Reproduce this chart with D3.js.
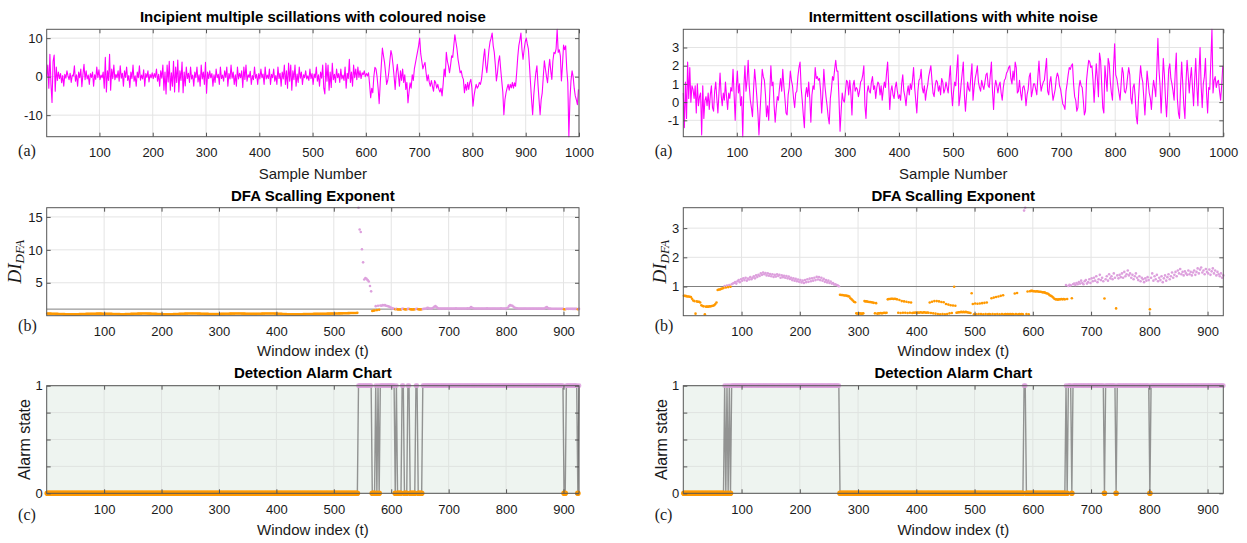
<!DOCTYPE html>
<html>
<head>
<meta charset="utf-8">
<script src="https://cdn.jsdelivr.net/npm/d3@7"></script>
<style>
  body { margin: 0; background: #fff; }
  svg { display: block; }
</style>
</head>
<body>
<svg id="chart" width="1247" height="543"></svg>
<script>
// ---------- data ----------
// Raw signals, one value every 2 samples (samples 1, 3, 5, ..., 999)
const sampleStep = 2;
const colouredNoise = [
  0,3,-3,5.8,-2,-6.7,4,5.6,-3.8,2.5, -1,1.2,-0.5,0.8,-1.6,0.3,-2.5,0.6,-0.4,1.5, 0.2,-0.8,0.9,-1.5,0.4,0.2,2.8,-1.2,0.5,-2.5, 1.2,-0.3,2,-2.6,0.6,3.2,-0.8,1.5,-0.6,0.4, -2,0.8,-0.2,1.2,-2.5,0.5,-0.7,2.5,-0.3,1.8,
  -0.8,0.4,-0.3,1.2,-3,5,-4,1.5,-1,5.8, -3.5,2,-0.5,3,-0.8,0.6,-0.3,1.5,-1.2,2.8, -0.4,0.9,-2.5,1.5,-0.2,2.5,-1,0.3,-2.8,1.2, -0.5,3,-1.2,0.2,-2.5,1.2,-0.3,2.8,-0.9,0.4, -0.6,1.8,-2.5,0.8,-0.2,1.5,-1.4,0.6,-0.3,1,
  -0.5,0.8,-0.2,2,-1.2,0.6,-2.5,1.5,-0.4,3, -3.5,1.2,-4.5,3,-1.4,4,-3.5,1,-2.5,4, -4,2.5,-1.5,4.3,-4,1.5,-1,3.8,-4.2,1.2, -2.4,2.5,-0.5,0.9,-1.5,2.5,-0.6,0.4,-2.5,1.2, -0.3,2.5,-1.4,0.5,-2.5,3,-0.6,1.2,-2,3.7,
  -4.3,1.2,-0.5,1.5,-0.3,0.8,-2.5,0.5,-1.5,2, -0.3,0.6,-2,2.5,-0.5,0.4,-1.2,1.5,-0.2,2.5, -2.5,0.8,-0.6,3,-0.4,1.2,-2,0.5,-2.5,2.5, -0.6,0.9,-0.3,1.5,-2.8,2.5,-0.7,3,-1.2,0.5, -0.2,1.4,-2,0.3,-0.8,2.5,-0.4,0.6,-2,0.8,
  -0.6,2,-0.3,0.7,-2,2.5,-0.6,0.4,-0.5,2, -2,0.6,-0.3,2,-1.2,0.3,-2,2.5,-0.5,0.9, -2.5,1.2,-0.6,3,-2,1.5,-3,3.5,-1.2,3, -3.5,1.5,-0.8,3,-2.5,0.7,-1.5,2.5,-0.4,1.2, -2,0.5,-0.3,1.5,-0.6,0.2,-1,2,-0.5,0.8,
  -2,0.7,-0.3,2.5,-1.2,0.5,-2.5,1.2,-0.4,3, -3,-4.5,3.5,-1.2,3,-3.5,1.2,-2.8,3.5,-0.8, 0.6,-1.5,2,-0.3,0.8,-1.5,2,-0.6,0.4,-1, 2.5,-3,0.9,-0.5,4.5,-1.5,1.2,-2.5,3,-0.3, 2,-0.8,2.5,-0.2,1.5,-0.5,1,0.5,1.5,0,
  0.8,0.2,1,-2,-5.5,-3,-4.2,0,2.4,2, 0,-3,-7,-1.6,3,7.4,5.5,3.7,1,-2, -1,1,4,6.8,5.5,3,0,-3.3,1,3.2, 0.5,-2.5,1.5,-1,2,-1.5,0.5,-3.3,-1.5,-6.8, -4,-1.6,-3,0.5,-1,2,3.5,5,6.5,8,
  10,5.9,4,2,3,3.7,1,-1.1,0.5,-1.5, -2.5,-1,-2.5,-3.8,-1,-1.6,-3,-2,-3.3,-4, -3,-5,-2,2,0,6.3,4,2.8,1,3, 5.4,5,8,10.9,9,7.2,4.5,2.8,1,1.5, 0,-0.7,-4.2,-2,-3.5,-1.5,-3.3,-1.5,-0.7,-3,
  -7.7,-5,-3.3,-2,-3,-2.5,-1.5,-2,-0.7,2, 5,7.2,3,1,4,7,9,10,11.3,8, 6.3,3,-1.1,1,4,5.4,2,-1.1,-4,-9.9, -6,-4.2,-3,-2,-3.5,-2,-2.9,-1.5,-3,-1.6, -2.5,1,5,8,9.5,11.3,7,4.5,7,9,
  10,8.5,7.2,3,-1.6,-6,-9.9,-5,-1.6,1, 2.8,-2,-6,-9.9,-6,-4.2,0,4.1,2,0, -1.6,2,4.5,1.5,-0.7,4,6.3,6,7.2,12.3, 6.3,7,5.4,-1.1,3,8.2,7,8,2,-1.6, -15.6,-6,-1,1.5,0,-3,-5,-6,-7.3,-3.3
];
const whiteNoise = [
  0.5,-1.4,1.1,-0.9,2.2,0.2,1.9,0,0.9,0.7, 0.2,0.9,-0.6,1,-0.2,0.3,0.5,-1.8,0.9,-0.9, 0.1,0.3,-0.2,0.5,-0.4,0.4,0.9,-0.3,-0.5,0.6, 1.1,0.2,-0.6,0.5,1.6,0.4,-0.2,0.5,0.1,1.1, 0.3,-0.4,0.5,0.2,0.8,0.6,1.8,0.4,-1,0.8,
  1.7,0.5,1,-0.2,0.3,-1.9,0.8,2,0.6,1.2, 2.3,0.9,0.1,-0.3,-0.8,0.7,1.8,1.1,0.3,-0.6, -1.8,-0.5,0.6,1.8,1.4,1.2,0.4,-0.8,-0.2,-1, 0.5,2,0.9,1.1,-0.2,-1.1,-0.3,0.3,0.1,0.8, 1.3,0.6,1.8,0.9,0.2,-0.6,-0.7,0.4,0.8,1.7,
  1.2,0.9,0.2,-0.3,0.5,0.6,1.4,1.9,2.2,0.8, 0.1,-0.7,-1.4,0.4,0.8,0.3,1.1,0.2,-1.1,0.4, 0.9,0.7,1.9,1.3,1.4,1.2,1.3,0.6,-0.6,0.4, 1.8,0.9,0.3,-0.2,-0.8,-1.2,0.2,0.7,1.4,1.2, 1.8,2.3,1.7,1.7,0.2,-1.6,-0.5,0.5,0.1,0,
  0.6,1.2,1.1,0.4,1.2,0.5,-0.7,0.9,1.2,0.6, 0.8,0.7,0.3,0.6,1.1,1.2,1.5,2,-0.2,-0.9, 0.5,0.9,0.6,0.5,1.1,1.4,0.7,0.9,0.2,0.8, 1.1,1,0.4,0.9,0.1,0.7,1.1,0.8,1.6,2.2, 0.9,-0.4,0.6,0.9,0.4,0.2,0.8,1.1,0.6,0.2,
  0.4,0.1,1,1.5,0.6,0.3,-0.2,0.5,0.9,0.4, 1,0.7,1.2,1.9,0.8,0.1,-0.6,0.6,1.2,1.3, 1.8,0.8,0.5,0.9,0.1,0.6,0.9,1.4,1.7,2, 1.2,0.5,0.3,0.9,1.2,1.1,0.6,0.9,0.4,1.3, 1.1,0.5,0.7,1.1,0.8,0.5,1.3,2,0.6,-0.2,
  0.6,1.1,0.9,1.8,2.6,-0.2,0.3,1,1.6,2.2, 0.4,-0.5,0.4,1.1,0.7,0.6,1.4,2.1,0.1,0.8, 1.3,1.6,2,1.1,0.8,0.6,1.2,0.9,0.7,1.1, 1.5,1.6,0.9,0.8,1.5,2.2,0.6,-0.4,0.8,1.2, 0.9,0.5,0.9,1.1,0.5,0.1,0.8,1.2,1.3,1.6,
  1.7,1.9,2,1.3,1,1.7,1.2,2.2,1.9,0.5, 0.6,1.2,0.5,0.1,0.8,0.9,0.6,-0.2,0.4,0.7, 1.4,1.6,0.3,0.6,1,1,0.7,0.4,1.4,2.25, 1.2,0.6,0.9,1.1,1.2,1.8,2.4,0.6,0.4,1.1, 1.4,0.7,0.1,0.4,0.7,1.3,1.6,1.4,0.9,0.7,
  0.3,-0.1,-0.2,-0.4,0.6,1,1.5,1.9,1.8,2, 2.1,1,0.3,0.1,-0.5,-0.3,0.8,1.2,0.9,0.8, 0.1,-0.7,-0.5,1.2,1.8,2.3,2.2,1.9,2,1.2, 0,1.1,2.1,1.3,0.3,2.7,2.3,1,-0.3,-0.6, 2,1.3,0.6,2.4,2.1,1.1,0.5,0.1,1.9,3.2,
  1.5,1.3,0.9,0.5,0.1,1,1.9,1.6,0.6,0.5, 0.8,1.4,1.9,1.5,0.2,-0.1,0.8,1,0.3,-0.8, -1.2,0.1,1.2,2,1.4,1.1,0.2,-0.7,0.5,1.7, 1.1,0.5,0.2,-0.4,0.6,1.2,0.8,0.3,1.8,3.5, 1.8,0.9,-0.6,0.8,2.4,1.5,0.2,-0.8,0.4,1.8,
  2.1,1.3,1,0.6,0.1,1.6,2.7,0.2,-0.6,-0.9, 0.9,2.2,1,-0.2,-0.9,1.1,2.3,1.5,0.5,1.3, 1.9,0.8,-0.2,1.2,2.4,0.9,-0.2,1.6,3,0.9, -0.3,1,1.4,2.4,0.5,-0.6,0.8,0.7,2.3,4, 0.5,1.2,1.4,0.8,1.1,1.2,0.6,0.1,0.9,2
];

// DFA scaling exponent per sliding window, one value every 2 windows (1, 3, ..., 927)
const windowStep = 2;
const dfaColoured = [
  0.32,0.32,0.31,0.31,0.3,0.3,0.29,0.28,0.28,0.27, 0.26,0.26,0.25,0.25,0.24,0.24,0.23,0.23,0.23,0.22, 0.22,0.22,0.22,0.22,0.22,0.23,0.23,0.23,0.24,0.24, 0.25,0.25,0.26,0.26,0.27,0.27,0.28,0.28,0.29,0.29, 0.3,0.3,0.3,0.31,0.31,0.31,0.31,0.31,0.3,0.3,
  0.3,0.29,0.29,0.28,0.28,0.27,0.27,0.26,0.26,0.25, 0.25,0.24,0.24,0.24,0.23,0.23,0.23,0.23,0.24,0.24, 0.25,0.25,0.26,0.27,0.27,0.28,0.29,0.29,0.3,0.31, 0.31,0.32,0.32,0.33,0.33,0.33,0.33,0.32,0.32,0.31, 0.31,0.3,0.29,0.28,0.28,0.27,0.26,0.25,0.25,0.24,
  0.24,0.23,0.23,0.22,0.22,0.22,0.22,0.22,0.23,0.23, 0.24,0.24,0.25,0.26,0.26,0.27,0.28,0.29,0.3,0.3, 0.31,0.32,0.32,0.33,0.33,0.34,0.34,0.34,0.34,0.33, 0.33,0.32,0.32,0.31,0.3,0.3,0.29,0.28,0.28,0.27, 0.27,0.26,0.26,0.26,0.25,0.25,0.25,0.25,0.26,0.26,
  0.26,0.27,0.27,0.28,0.28,0.29,0.29,0.3,0.3,0.31, 0.31,0.32,0.32,0.32,0.33,0.33,0.33,0.33,0.33,0.32, 0.32,0.31,0.31,0.3,0.3,0.29,0.29,0.28,0.28,0.28, 0.28,0.28,0.28,0.29,0.29,0.3,0.3,0.31,0.32,0.32, 0.33,0.33,0.34,0.34,0.34,0.34,0.33,0.33,0.32,0.31,
  0.31,0.3,0.29,0.28,0.27,0.26,0.25,0.24,0.24,0.23, 0.22,0.22,0.21,0.21,0.21,0.21,0.21,0.22,0.22,0.22, 0.23,0.23,0.23,0.24,0.24,0.24,0.25,0.25,0.25,0.26, 0.26,0.26,0.27,0.27,0.27,0.28,0.28,0.28,0.29,0.29, 0.29,0.3,0.3,0.3,0.31,0.31,0.31,0.32,0.32,0.32,
  0.33,0.33,0.34,0.34,0.35,0.35,0.36,0.36,0.37,0.37, 0.38,0.38,0.39,0.39,0.4,0.4,0.41,0.41,0.42,0.42, 0.43,16.4,13.1,12.7,10.1,8.1,5.5,5.7,5.6,5.4, 5.2,4.5,3.7,0.72,0.76,0.8,1.45,0.85,1.5,0.9, 1.55,1.5,1.6,1.58,1.6,1.52,1.48,1.42,1.35,1.25,
  1.15,1.1,1.05,0.97,1.03,0.96,0.95,0.94,0.95,1.03, 1.04,0.97,0.96,0.97,1.03,1.04,0.97,0.96,0.95,0.96, 0.97,1.02,1.03,0.97,0.96,0.95,0.97,1.02,1.04,1.05, 1.1,1.2,1.15,1.1,1.08,1.1,1.2,1.35,1.45,1.3, 1.15,1.1,1.08,1.1,1.1,1.08,1.1,1.1,1.1,1.1,
  1.1,1.1,1.09,1.1,1.1,1.1,1.11,1.1,1.1,1.1, 1.1,1.1,1.1,1.1,1.1,1.1,1.12,1.1,1.15,1.3, 1.2,1.12,1.1,1.1,1.1,1.1,1.1,1.1,1.1,1.1, 1.1,1.1,1.1,1.11,1.1,1.1,1.1,1.1,1.1,1.1, 1.1,1.1,1.1,1.1,1.1,1.12,1.1,1.1,1.1,1.1,
  1.12,1.2,1.45,1.6,1.55,1.5,1.35,1.2,1.15,1.12, 1.1,1.1,1.1,1.1,1.1,1.09,1.08,1.1,1.08,1.08, 1.08,1.08,1.07,1.08,1.07,1.07,1.07,1.08,1.07,1.07, 1.07,1.07,1.07,1.1,1.25,1.3,1.15,1.08,1.07,1.06, 1.06,1.06,1.06,1.05,1.06,1.05,1.05,1.05,1.04,1.05,
  0.97,0.98,1.04,1.05,1.04,1.05,1.04,1.04,1.03,1.04,1.03,1.04,0.98,1.03
];
const dfaWhite = [
  0.68,0.68,0.67,0.66,0.66,0.65,0.64,0.58,0.52,0.5, 0.07,0.49,0.48,0.48,0.45,0.36,0.33,0.32,0.05,0.31, 0.31,0.31,0.32,0.32,0.33,0.34,0.36,0.4,0.45,0.88, 0.9,0.9,0.92,0.93,0.95,1.02,0.97,1.03,0.98,1.05, 0.99,1.08,1.1,1.12,1.15,1.1,1.18,1.22,1.15,1.25,
  1.2,1.28,1.22,1.3,1.2,1.27,1.24,1.32,1.25,1.3, 1.35,1.28,1.38,1.33,1.4,1.36,1.45,1.4,1.48,1.42, 1.46,1.38,1.45,1.37,1.43,1.35,1.42,1.33,1.4,1.34, 1.42,1.36,1.4,1.3,1.38,1.32,1.37,1.3,1.36,1.28, 1.34,1.26,1.3,1.22,1.28,1.2,1.26,1.18,1.24,1.16,
  1.22,1.14,1.2,1.12,1.22,1.15,1.25,1.16,1.27,1.18, 1.28,1.2,1.3,1.22,1.33,1.24,1.32,1.22,1.3,1.2, 1.26,1.16,1.22,1.14,1.2,1.12,1.17,1.1,1.12,1.07, 1.08,1.05,1.04,1.01,0.72,0.71,0.71,0.7,0.69,0.69, 0.68,0.67,0.66,0.6,0.56,0.52,0.48,0.46,0.08,0.07,
  0.07,0.08,0.07,0.07,0.08,0.5,0.49,0.49,0.48,0.47, 0.47,0.46,0.45,0.44,0.08,0.43,0.07,0.08,0.08,0.09, 0.08,0.09,0.1,0.09,0.1,0.56,0.57,0.57,0.58,0.58, 0.57,0.58,0.57,0.56,0.1,0.54,0.09,0.5,0.1,0.49, 0.1,0.48,0.09,0.46,0.1,0.45,0.09,0.1,0.1,0.11,
  0.1,0.11,0.1,0.12,0.11,0.1,0.12,0.11,0.1,0.11, 0.1,0.45,0.09,0.48,0.08,0.5,0.07,0.5,0.06,0.49, 0.05,0.47,0.06,0.46,0.05,0.4,0.06,0.38,0.08,0.36, 0.09,0.35,0.99,0.34,0.1,0.11,0.12,0.12,0.13,0.12, 0.13,0.12,0.13,0.12,0.11,0.1,0.09,0.77,0.4,0.05,
  0.42,0.05,0.41,0.06,0.42,0.06,0.43,0.05,0.44,0.06, 0.45,0.05,0.06,0.05,0.6,0.06,0.62,0.05,0.64,0.06, 0.66,0.05,0.68,0.06,0.7,0.05,0.06,0.05,0.06,0.05, 0.06,0.05,0.06,0.05,0.76,0.06,0.78,0.05,0.06,0.05, 0.06,0.05,3.6,3.7,0.06,0.83,0.05,0.84,0.85,0.85,
  0.84,0.84,0.83,0.84,0.83,0.82,0.82,0.81,0.8,0.8, 0.79,0.77,0.76,0.74,0.7,0.68,0.66,0.62,0.58,0.56, 0.56,0.55,0.56,0.56,0.57,0.56,0.57,0.56,1.05,0.57, 1.02,1.06,1.04,0.6,1.08,1.1,1.05,1.12,1.08,1.15, 1.1,1.2,1.12,1.08,1.18,1.22,1.1,1.15,1.25,1.12,
  1.28,1.18,1.3,1.2,1.35,1.15,1.25,1.4,1.22,1.3, 1.18,0.59,1.25,1.35,1.2,1.42,1.28,1.35,1.25,1.45, 1.3,0.25,1.38,1.28,1.4,1.32,1.45,1.3,1.5,1.35, 1.42,1.55,1.38,1.45,1.3,1.4,1.25,1.35,1.45,1.3, 1.22,1.35,1.18,1.3,1.25,1.15,1.28,1.2,1.32,1.22,
  0.22,1.3,1.45,1.2,1.35,1.25,1.4,1.18,1.3,1.22, 1.35,1.15,1.28,1.38,1.2,1.32,1.42,1.25,1.35,1.48, 1.3,1.4,1.5,1.35,1.55,1.45,1.6,1.42,1.5,1.38, 1.52,1.45,1.4,1.55,1.42,1.5,1.38,1.48,1.55,1.4, 1.5,1.62,1.45,1.58,1.65,1.48,1.55,1.42,1.6,1.5,
  1.45,1.58,1.4,1.52,1.62,1.45,1.55,1.38,1.5,1.42,1.35,1.45,1.3,1.38
];
const dfaThreshold = 1;

const sampleTicks = [100, 200, 300, 400, 500, 600, 700, 800, 900, 1000];
const windowTicks = [100, 200, 300, 400, 500, 600, 700, 800, 900];
const colouredTicksY = [-10, 0, 10];
const whiteTicksY = [-1, 0, 1, 2, 3];
const dfaColouredTicksY = [5, 10, 15];
const dfaWhiteTicksY = [1, 2, 3];
const alarmTicksY = [0, 0.25, 0.5, 0.75, 1];
const alarmTickLabels = [0, 1];

const signalTitles = ['Incipient multiple scillations with coloured noise', 'Intermittent oscillations with white noise'];
const dfaTitle = 'DFA Scalling Exponent';
const alarmTitle = 'Detection Alarm Chart';

// ---------- styling ----------
const SANS = '"Liberation Sans", Arial, Helvetica, sans-serif';
const SERIF = '"Liberation Serif", "Times New Roman", serif';
const MAGENTA = '#ff00ff';
const ORANGE = '#ff9900';
const PLUM = '#dda0dd';
const AXIS = '#555555';
const GRID = '#e4e4e4';

const columns = [
  { left: 46.7, width: 532.3 },
  { left: 683.3, width: 540 }
];
const rows = {
  signal: { top: 29.3, height: 107.4 },
  dfa: { top: 207.7, height: 108 },
  alarm: { top: 385.7, height: 107.6 }
};

const svg = d3.select('#chart');

function panel(col, row, cfg) {
  const g = svg.append('g');
  const x = d3.scaleLinear().domain(cfg.xDomain).range([col.left, col.left + col.width]);
  const y = d3.scaleLinear().domain(cfg.yDomain).range([row.top + row.height, row.top]);
  const bottomY = row.top + row.height;

  if (cfg.background) {
    g.append('rect').attr('x', col.left).attr('y', row.top)
      .attr('width', col.width).attr('height', row.height).attr('fill', cfg.background);
  }
  const grid = g.append('g').attr('stroke', cfg.grid || GRID).attr('stroke-width', 1);
  grid.append('g').selectAll('line').data(cfg.xTicks).join('line')
    .attr('x1', d => x(d)).attr('x2', d => x(d)).attr('y1', row.top).attr('y2', bottomY);
  grid.append('g').selectAll('line').data(cfg.yTicks).join('line')
    .attr('x1', col.left).attr('x2', col.left + col.width).attr('y1', d => y(d)).attr('y2', d => y(d));

  const plot = g.append('g');
  const frame = g.append('g').attr('font-family', SANS).attr('font-size', 13);

  frame.append('g').attr('transform', `translate(0,${bottomY})`)
    .call(d3.axisBottom(x).tickValues(cfg.xTicks).tickSize(-4).tickPadding(11.3).tickFormat(d => String(d)));
  frame.append('g').attr('transform', `translate(0,${row.top})`)
    .call(d3.axisTop(x).tickValues(cfg.xTicks).tickSize(-4).tickFormat(''));
  frame.append('g').attr('transform', `translate(${col.left},0)`)
    .call(d3.axisLeft(y).tickValues(cfg.yTicks).tickSize(-4).tickPadding(4)
      .tickFormat(cfg.yFormat || (d => String(d))));
  frame.append('g').attr('transform', `translate(${col.left + col.width},0)`)
    .call(d3.axisRight(y).tickValues(cfg.yTicks).tickSize(-4).tickFormat(''));
  frame.selectAll('.domain').remove();
  frame.selectAll('.tick line').attr('stroke', AXIS);
  frame.selectAll('.tick text').attr('fill', '#1a1a1a')
    .attr('font-family', SANS).attr('font-size', 13);
  frame.append('rect').attr('x', col.left).attr('y', row.top)
    .attr('width', col.width).attr('height', row.height)
    .attr('fill', 'none').attr('stroke', AXIS).attr('stroke-width', 1);

  // title
  svg.append('text').attr('x', col.left + col.width / 2).attr('y', cfg.titleY)
    .attr('text-anchor', 'middle').attr('font-family', SANS).attr('font-weight', 'bold')
    .attr('font-size', 15).attr('fill', '#000').text(cfg.title);
  // x label
  svg.append('text').attr('x', col.left + col.width / 2).attr('y', cfg.xLabelY)
    .attr('text-anchor', 'middle').attr('font-family', SANS)
    .attr('font-size', 15).attr('fill', '#1a1a1a').text(cfg.xLabel);
  // panel letter
  svg.append('text').attr('x', col.left - 28.6).attr('y', cfg.letterY)
    .attr('font-family', SERIF).attr('font-size', 16).attr('fill', '#1a1a1a').text(cfg.letter);

  return { x, y, plot };
}

const sampleIndex = i => 1 + i * sampleStep;
const windowIndex = i => 1 + i * windowStep;

// ---------- row (a): raw signals ----------
[colouredNoise, whiteNoise].forEach((series, c) => {
  const col = columns[c];
  const p = panel(col, rows.signal, {
    xDomain: [1, 1000],
    yDomain: d3.extent(series),
    xTicks: sampleTicks,
    yTicks: c === 0 ? colouredTicksY : whiteTicksY,
    title: signalTitles[c], titleY: 22.4,
    xLabel: 'Sample Number', xLabelY: 178.5,
    letter: '(a)', letterY: 156
  });
  const line = d3.line().x((d, i) => p.x(sampleIndex(i))).y(d => p.y(d));
  p.plot.append('path').datum(series).attr('d', line)
    .attr('fill', 'none').attr('stroke', MAGENTA).attr('stroke-width', 1.1)
    .attr('stroke-linejoin', 'round');
});

// ---------- row (b): DFA scaling exponent ----------
[dfaColoured, dfaWhite].forEach((series, c) => {
  const col = columns[c];
  const p = panel(col, rows.dfa, {
    xDomain: [0, 927],
    yDomain: [0, d3.max(series)],
    xTicks: windowTicks,
    yTicks: c === 0 ? dfaColouredTicksY : dfaWhiteTicksY,
    title: dfaTitle, titleY: 200.7,
    xLabel: 'Window index (t)', xLabelY: 356.4,
    letter: '(b)', letterY: 330.5
  });
  p.plot.append('line')
    .attr('x1', col.left).attr('x2', col.left + col.width)
    .attr('y1', p.y(dfaThreshold)).attr('y2', p.y(dfaThreshold))
    .attr('stroke', '#808080').attr('stroke-width', 1);
  p.plot.append('g').selectAll('circle').data(series).join('circle')
    .attr('cx', (d, i) => p.x(windowIndex(i))).attr('cy', d => p.y(d)).attr('r', 1.3)
    .attr('fill', d => d > dfaThreshold ? PLUM : ORANGE);

  // rotated y label  DI_DFA
  const lx = c === 0 ? 21 : 665.5;
  const label = svg.append('text')
    .attr('transform', `translate(${lx},${rows.dfa.top + rows.dfa.height / 2}) rotate(-90)`)
    .attr('text-anchor', 'middle').attr('font-family', SERIF).attr('font-style', 'italic')
    .attr('fill', '#1a1a1a');
  label.append('tspan').attr('font-size', 19).text('DI');
  label.append('tspan').attr('font-size', 13).attr('dy', 3).text('DFA');
});

// ---------- row (c): alarm state derived from the threshold ----------
[dfaColoured, dfaWhite].forEach((series, c) => {
  const col = columns[c];
  const alarm = series.map(v => (v > dfaThreshold ? 1 : 0));
  const p = panel(col, rows.alarm, {
    xDomain: [0, 927],
    yDomain: [0, 1],
    xTicks: windowTicks,
    yTicks: alarmTicksY,
    yFormat: d => (alarmTickLabels.includes(d) ? String(d) : ''),
    background: '#eef4f0',
    grid: '#dfe3e0',
    title: alarmTitle, titleY: 378,
    xLabel: 'Window index (t)', xLabelY: 534.5,
    letter: '(c)', letterY: 520
  });
  const line = d3.line().x((d, i) => p.x(windowIndex(i))).y(d => p.y(d));
  p.plot.append('path').datum(alarm).attr('d', line)
    .attr('fill', 'none').attr('stroke', '#7a7a7a').attr('stroke-opacity', 0.8)
    .attr('stroke-width', 1.4);
  const pts = alarm.map((a, i) => ({ a, w: windowIndex(i) }));
  p.plot.append('g').selectAll('circle').data(pts.filter(d => d.a === 1)).join('circle')
    .attr('cx', d => p.x(d.w)).attr('cy', d => p.y(d.a)).attr('r', 2.4)
    .attr('fill', PLUM).attr('fill-opacity', 0.85);
  p.plot.append('g').selectAll('circle').data(pts.filter(d => d.a === 0)).join('circle')
    .attr('cx', d => p.x(d.w)).attr('cy', d => p.y(d.a)).attr('r', 2.8)
    .attr('fill', ORANGE);

  const lx = c === 0 ? 30 : 666.5;
  svg.append('text')
    .attr('transform', `translate(${lx},${rows.alarm.top + rows.alarm.height / 2}) rotate(-90)`)
    .attr('text-anchor', 'middle').attr('font-family', SANS).attr('font-size', 16)
    .attr('fill', '#1a1a1a').text('Alarm state');
});
</script>
</body>
</html>
